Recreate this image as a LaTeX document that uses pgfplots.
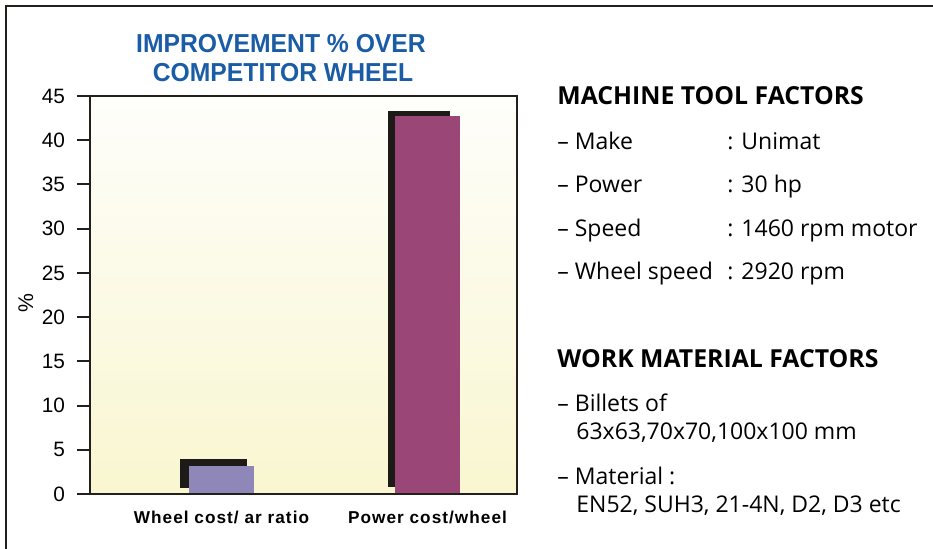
\documentclass[border=0pt]{standalone}
\usepackage{fontspec}
\setmainfont{Liberation Sans}
\newfontfamily\titlefont[FakeStretch=0.95]{Liberation Sans}
\newfontfamily\catfont[LetterSpace=6]{Liberation Sans}
\newfontfamily\sidefont{Open Sans}
\usepackage{pgfplots}
\pgfplotsset{compat=1.18}

\definecolor{titleblue}{HTML}{1B5CA6}
\definecolor{lav}{HTML}{8E87B8}
\definecolor{mag}{HTML}{9A4677}
\definecolor{shadow}{HTML}{1E1A17}
\definecolor{axisline}{HTML}{231F1C}
\definecolor{bgtop}{HTML}{FEFEFB}
\definecolor{bgbot}{HTML}{F9F6D0}

\begin{document}
\begin{tikzpicture}
\useasboundingbox (0,0) rectangle (466.5pt,274.5pt);

\begin{axis}[
    at={(45pt,27.5pt)}, anchor=south west,
    scale only axis, width=213.5pt, height=199pt,
    xmin=90, xmax=517, ymin=0, ymax=45,
    ytick={0,5,...,45},
    xtick={221.5,427.5},
    xticklabels={Wheel cost/ ar ratio, Power cost/wheel},
    xtick style={draw=none},
    tick align=outside, tick pos=left,
    major tick length=6.5pt,
    ytick style={line width=1pt, color=axisline},
    axis line style={line width=1pt, color=axisline},
    axis background/.style={top color=bgtop, bottom color=bgbot},
    axis on top,
    /pgf/number format/assume math mode=true,
    yticklabel style={font=\fontsize{10.4}{11}\selectfont, xshift=-2.5pt},
    xticklabel style={font=\catfont\bfseries\fontsize{8.6}{10}\selectfont, yshift=1.5pt},
    ylabel={\%},
    ylabel style={at={(axis description cs:-0.15,0.48)}, anchor=center, font=\fontsize{10.6}{11}\selectfont},
]
% shadows
\addplot[fill=shadow, draw=none] coordinates {(180,0.7) (180,4.0) (247,4.0) (247,0.7)} -- cycle;
\addplot[fill=shadow, draw=none] coordinates {(388,0.8) (388,43.3) (450,43.3) (450,0.8)} -- cycle;
% bars
\addplot[ybar, bar width=65, fill=lav, draw=none] coordinates {(221.5,3.2)};
\addplot[ybar, bar width=65, fill=mag, draw=none] coordinates {(427.5,42.7)};
\end{axis}

\begin{scope}[x=0.5pt, y=-0.5pt, yshift=274.5pt]
  \draw[line width=1.1pt, color=axisline] (6,549) -- (6,6) -- (933,6);
  \node[anchor=base, inner sep=0, text=titleblue, font=\titlefont\bfseries\fontsize{13}{15}\selectfont] at (281,53) {IMPROVEMENT \% OVER};
  \node[anchor=base, inner sep=0, text=titleblue, font=\titlefont\bfseries\fontsize{13}{15}\selectfont] at (283,82) {COMPETITOR WHEEL};
  \tikzset{head/.style={anchor=base west, inner sep=0, font=\sidefont\bfseries\fontsize{12.4}{14}\selectfont},
           body/.style={anchor=base west, inner sep=0, font=\sidefont\fontsize{11.5}{13}\selectfont}}
  \node[head] at (557,105) {MACHINE TOOL FACTORS};
  \node[body] at (557,150) {– Make};
  \node[body] at (727,150) {: Unimat};
  \node[body] at (557,193) {– Power};
  \node[body] at (727,193) {: 30 hp};
  \node[body] at (557,237) {– Speed};
  \node[body] at (727,237) {: 1460 rpm motor};
  \node[body] at (557,280) {– Wheel speed};
  \node[body] at (727,280) {: 2920 rpm};
  \node[head] at (557,368) {WORK MATERIAL FACTORS};
  \node[body] at (557,412) {– Billets of};
  \node[body] at (576,440) {63x63,70x70,100x100 mm};
  \node[body] at (557,485) {– Material :};
  \node[body] at (576,513) {EN52, SUH3, 21-4N, D2, D3 etc};
\end{scope}
\end{tikzpicture}
\end{document}
